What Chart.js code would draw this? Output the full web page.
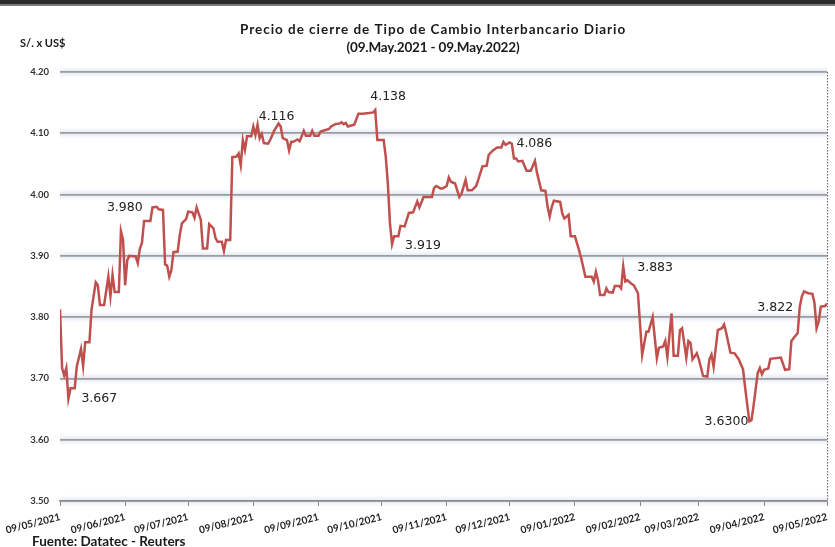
<!DOCTYPE html>
<html>
<head>
<meta charset="utf-8">
<script src="https://cdn.jsdelivr.net/npm/chart.js@4/dist/chart.umd.min.js"></script>
<style>
  html, body { margin: 0; padding: 0; background: #fff; }
  #wrap { position: relative; width: 835px; height: 547px; overflow: hidden; }
  canvas { display: block; }
</style>
</head>
<body>
<div id="wrap"><canvas id="c" width="835" height="547"></canvas></div>
<script>
// ---- DATA ----
const titleLines = ['Precio de cierre de Tipo de Cambio Interbancario Diario', '(09.May.2021 - 09.May.2022)'];
const unitLabel = 'S/. x US$';
const sourceLabel = 'Fuente: Datatec - Reuters';

// days elapsed since 09/05/2021
const tickDays = [0, 31, 61, 92, 123, 153, 184, 214, 245, 276, 304, 335, 365];
const tickLabels = ['09/05/2021', '09/06/2021', '09/07/2021', '09/08/2021', '09/09/2021', '09/10/2021',
  '09/11/2021', '09/12/2021', '09/01/2022', '09/02/2022', '09/03/2022', '09/04/2022', '09/05/2022'];

const days = [0,1,2,3,4,5,6,7,8,10,11,12,14,15,17,18,19,21,23,24,25,26,28,29,30,31,32,33,36,37,38,39,40,43,44,46,47,49,50,51,52,53,54,56,57,58,60,61,63,64,65,67,68,70,71,73,74,75,77,78,79,81,82,84,85,86,87,88,89,91,92,93,94,95,96,97,99,100,102,104,105,106,108,109,110,111,113,114,115,116,117,119,120,121,123,124,126,128,129,131,133,134,135,136,137,140,141,142,144,147,149,150,151,154,155,156,157,158,159,161,162,164,166,168,170,171,173,177,178,179,181,182,184,185,186,188,190,191,193,194,196,198,199,201,203,204,206,208,210,211,212,214,215,216,217,218,220,222,224,226,227,229,231,232,233,234,235,238,239,240,242,243,245,247,248,250,253,254,255,256,257,259,260,261,263,264,266,267,268,269,270,272,273,275,277,279,280,282,284,285,287,288,289,291,292,294,295,296,298,299,300,301,303,304,306,308,309,310,311,313,315,316,317,319,321,323,325,326,328,329,330,332,333,334,335,337,338,343,345,347,348,351,352,353,354,356,358,359,360,361,362,364,365];

const rates = [3.813,3.717,3.705,3.717,3.667,3.684,3.684,3.684,3.720,3.748,3.720,3.759,3.759,3.812,3.857,3.852,3.820,3.820,3.866,3.834,3.869,3.841,3.841,3.940,3.926,3.852,3.893,3.900,3.899,3.888,3.912,3.921,3.957,3.957,3.979,3.980,3.976,3.975,3.886,3.884,3.866,3.877,3.906,3.907,3.934,3.953,3.960,3.972,3.971,3.962,3.979,3.959,3.912,3.912,3.952,3.945,3.929,3.923,3.923,3.908,3.926,3.926,4.061,4.062,4.067,4.048,4.089,4.073,4.095,4.095,4.111,4.097,4.114,4.092,4.099,4.084,4.083,4.089,4.105,4.116,4.111,4.092,4.089,4.072,4.086,4.086,4.090,4.087,4.095,4.104,4.096,4.096,4.104,4.096,4.096,4.103,4.105,4.107,4.111,4.115,4.116,4.118,4.115,4.117,4.111,4.114,4.123,4.132,4.132,4.133,4.134,4.138,4.089,4.089,4.062,4.018,3.953,3.919,3.932,3.932,3.949,3.948,3.970,3.971,3.989,3.979,3.996,3.996,4.011,4.014,4.010,4.010,4.014,4.028,4.021,4.018,3.996,4.001,4.024,4.007,4.007,4.014,4.024,4.046,4.047,4.065,4.072,4.077,4.077,4.086,4.081,4.085,4.083,4.059,4.059,4.054,4.055,4.039,4.039,4.055,4.035,4.007,4.006,3.980,3.964,3.980,3.990,3.988,3.969,3.961,3.967,3.932,3.932,3.909,3.896,3.866,3.866,3.858,3.874,3.860,3.836,3.836,3.847,3.841,3.840,3.851,3.851,3.847,3.883,3.858,3.860,3.854,3.852,3.839,3.738,3.776,3.776,3.800,3.733,3.750,3.752,3.761,3.735,3.806,3.737,3.737,3.779,3.782,3.734,3.761,3.758,3.731,3.741,3.731,3.704,3.703,3.731,3.739,3.719,3.779,3.782,3.788,3.774,3.742,3.741,3.731,3.715,3.685,3.630,3.632,3.655,3.709,3.717,3.707,3.714,3.716,3.732,3.734,3.714,3.715,3.761,3.774,3.817,3.834,3.842,3.839,3.838,3.823,3.782,3.793,3.817,3.818,3.822];

const labelDays = [4, 46, 104, 150, 158, 211, 268, 328, 365];
const labelTexts = ['3.667', '3.980', '4.116', '4.138', '3.919', '4.086', '3.883', '3.6300', '3.822'];

const yMin = 3.5, yMax = 4.2, yStep = 0.1;

// ---- STYLE (positions of annotations relative to their points) ----
const labelStyle = [
  {dx: 13, dy: 0, align: 'left'},
  {dx: -14, dy: 1, align: 'right'},
  {dx: -2, dy: -7, align: 'center'},
  {dx: -5, dy: -13, align: 'left'},
  {dx: 13, dy: 1.5, align: 'left'},
  {dx: 13, dy: 1.5, align: 'left'},
  {dx: 14, dy: 1.5, align: 'left'},
  {dx: -1, dy: 0, align: 'right'},
  {dx: -34, dy: 4.5, align: 'right'}
];

function fitText(ctx, text, cx, cy, targetW) {
  ctx.letterSpacing = '0px';
  const w = ctx.measureText(text).width;
  const sp = (targetW - w) / text.length;
  ctx.letterSpacing = sp.toFixed(2) + 'px';
  ctx.textAlign = 'left';
  ctx.fillText(text, cx - targetW / 2, cy);
  ctx.letterSpacing = '0px';
}

const decorPlugin = {
  id: 'decor',
  beforeDraw(chart) {
    const ctx = chart.ctx, y = chart.scales.y, a = chart.chartArea;
    ctx.save();
    ctx.fillStyle = '#ffffff';
    ctx.fillRect(0, 0, chart.width, chart.height);
    y.ticks.forEach(t => {
      const py = y.getPixelForValue(t.value);
      const g = ctx.createLinearGradient(0, py - 6, 0, py + 6);
      g.addColorStop(0, 'rgba(225,232,243,0)');
      g.addColorStop(0.5, 'rgba(225,232,243,0.9)');
      g.addColorStop(1, 'rgba(225,232,243,0)');
      ctx.fillStyle = g;
      ctx.fillRect(a.left, py - 6, a.right - a.left, 12);
    });
    ctx.restore();
  },
  afterDraw(chart) {
    const ctx = chart.ctx, a = chart.chartArea, xs = chart.scales.x, ys = chart.scales.y;
    ctx.save();
    ctx.fillStyle = '#2b2b2b';
    ctx.fillRect(0, 0, chart.width, 4);
    ctx.fillStyle = '#7a7a7a';
    ctx.fillRect(0, 4, chart.width, 2);
    ctx.strokeStyle = '#555';
    ctx.lineWidth = 1;
    ctx.setLineDash([1.5, 1.5]);
    ctx.beginPath();
    ctx.moveTo(a.right + 0.5, a.top);
    ctx.lineTo(a.right + 0.5, a.bottom);
    ctx.stroke();
    ctx.setLineDash([]);
    ctx.fillStyle = '#1a1a1a';
    ctx.textBaseline = 'middle';
    ctx.font = 'bold 13.5px Lato';
    fitText(ctx, titleLines[0], 433, 30, 386);
    fitText(ctx, titleLines[1], 433, 48, 173);
    ctx.textAlign = 'left';
    ctx.font = 'bold 11px Lato';
    ctx.fillText(unitLabel, 20, 43);
    ctx.font = 'bold 13.5px Lato';
    ctx.fillText(sourceLabel, 32, 542);
    ctx.font = '12.5px "DejaVu Sans"';
    ctx.fillStyle = '#222';
    labelDays.forEach((d, i) => {
      const idx = days.indexOf(d);
      const px = xs.getPixelForValue(d), py = ys.getPixelForValue(rates[idx]);
      const s = labelStyle[i];
      ctx.textAlign = s.align;
      ctx.fillText(labelTexts[i], px + s.dx, py + s.dy);
    });
    ctx.restore();
  }
};

new Chart(document.getElementById('c'), {
  type: 'line',
  data: {
    datasets: [{
      data: days.map((d, i) => ({x: d, y: rates[i]})),
      borderColor: '#C0504D',
      borderWidth: 2.5,
      pointRadius: 0,
      tension: 0,
      fill: false
    }]
  },
  options: {
    responsive: false,
    animation: false,
    layout: {padding: {left: 0, right: 2, top: 72, bottom: 0}},
    plugins: {legend: {display: false}, tooltip: {enabled: false}, title: {display: false}},
    scales: {
      x: {
        type: 'linear',
        min: tickDays[0],
        max: tickDays[tickDays.length - 1],
        afterBuildTicks(scale) { scale.ticks = tickDays.map(v => ({value: v})); },
        afterFit(scale) { scale.height = 46; },
        ticks: {
          autoSkip: false,
          minRotation: 14,
          maxRotation: 14,
          padding: 5,
          color: '#222',
          font: {family: 'Lato', size: 10, weight: 'bold'},
          callback(v) { const k = tickDays.indexOf(v); return k >= 0 ? tickLabels[k] : ''; }
        },
        grid: {display: true, drawOnChartArea: false, drawTicks: true, tickLength: 5, color: '#8a8a8a', lineWidth: 1},
        border: {display: true, color: '#8a8a8a', width: 1.5}
      },
      y: {
        min: yMin,
        max: yMax,
        afterFit(scale) { scale.width = 60; },
        ticks: {
          stepSize: yStep,
          padding: 11,
          color: '#333',
          font: {family: 'Lato', size: 9.5, weight: 'bold'},
          callback(v) { return Number(v).toFixed(2); }
        },
        grid: {color: '#9c9c9c', lineWidth: 1.8, drawTicks: false},
        border: {display: false}
      }
    }
  },
  plugins: [decorPlugin]
});
</script>
</body>
</html>
